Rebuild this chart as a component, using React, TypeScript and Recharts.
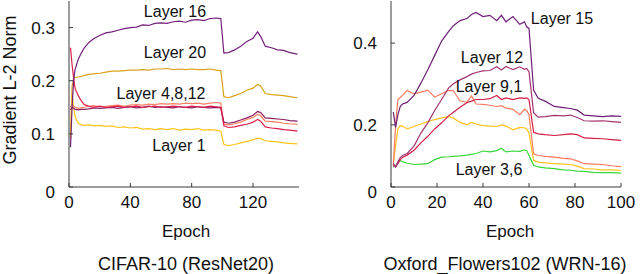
import React from 'react'
import { LineChart, Line, XAxis, YAxis } from 'recharts'

document.body.style.margin = '0'

const FONT = '"Liberation Sans", Arial, Helvetica, sans-serif'
const AXIS = '#3a3a3a'
const TEXT = '#111'

// ---- CIFAR-10 (ResNet20) ----
const cifarEpochs = [1, 2, 3, 4, 6, 8, 10, 13, 16, 20, 24, 28, 32, 36, 40, 44, 48, 52, 56, 60, 64, 68, 72, 76, 80, 84, 88, 92, 96, 99, 101, 104, 108, 112, 116, 120, 123, 125, 128, 132, 136, 140, 144, 149]
const cifarLayer16 = [0.075, 0.15, 0.2, 0.222, 0.24, 0.252, 0.262, 0.272, 0.279, 0.285, 0.29, 0.292, 0.295, 0.298, 0.3, 0.301, 0.305, 0.304, 0.308, 0.309, 0.308, 0.311, 0.312, 0.31, 0.314, 0.315, 0.313, 0.317, 0.318, 0.317, 0.252, 0.253, 0.258, 0.265, 0.274, 0.28, 0.292, 0.283, 0.265, 0.262, 0.258, 0.257, 0.253, 0.25]
const cifarLayer20 = [0.09, 0.19, 0.204, 0.206, 0.207, 0.208, 0.21, 0.212, 0.213, 0.214, 0.216, 0.218, 0.218, 0.219, 0.22, 0.22, 0.221, 0.22, 0.222, 0.222, 0.223, 0.221, 0.222, 0.221, 0.222, 0.221, 0.221, 0.222, 0.22, 0.219, 0.17, 0.168, 0.172, 0.176, 0.182, 0.186, 0.193, 0.19, 0.176, 0.174, 0.173, 0.172, 0.17, 0.168]
const cifarLayer4 = [0.145, 0.15, 0.148, 0.146, 0.145, 0.146, 0.146, 0.147, 0.149, 0.148, 0.149, 0.15, 0.148, 0.15, 0.151, 0.149, 0.15, 0.152, 0.15, 0.151, 0.15, 0.149, 0.151, 0.15, 0.149, 0.151, 0.15, 0.149, 0.15, 0.149, 0.122, 0.12, 0.122, 0.126, 0.13, 0.135, 0.142, 0.14, 0.13, 0.129, 0.128, 0.127, 0.125, 0.124]
const cifarLayer8 = [0.262, 0.23, 0.205, 0.185, 0.172, 0.162, 0.155, 0.152, 0.15, 0.152, 0.15, 0.151, 0.152, 0.15, 0.151, 0.152, 0.15, 0.151, 0.152, 0.15, 0.151, 0.152, 0.151, 0.15, 0.152, 0.151, 0.15, 0.152, 0.151, 0.15, 0.115, 0.112, 0.113, 0.116, 0.118, 0.122, 0.127, 0.124, 0.113, 0.111, 0.11, 0.108, 0.107, 0.105]
const cifarLayer12 = [0.15, 0.155, 0.152, 0.15, 0.148, 0.149, 0.15, 0.152, 0.153, 0.151, 0.152, 0.153, 0.154, 0.152, 0.154, 0.155, 0.154, 0.156, 0.155, 0.157, 0.156, 0.157, 0.156, 0.158, 0.157, 0.158, 0.156, 0.158, 0.159, 0.158, 0.118, 0.117, 0.119, 0.122, 0.127, 0.131, 0.137, 0.134, 0.124, 0.123, 0.122, 0.12, 0.119, 0.118]
const cifarLayer1 = [0.1, 0.175, 0.15, 0.132, 0.12, 0.117, 0.116, 0.117, 0.115, 0.116, 0.114, 0.115, 0.112, 0.113, 0.111, 0.112, 0.109, 0.11, 0.108, 0.11, 0.108, 0.11, 0.107, 0.109, 0.108, 0.11, 0.107, 0.108, 0.107, 0.105, 0.08, 0.078, 0.08, 0.083, 0.086, 0.089, 0.092, 0.091, 0.087, 0.086, 0.085, 0.083, 0.082, 0.081]
const cifarXTicks = [0, 40, 80, 120]
const cifarYTicks = [0, 0.1, 0.2, 0.3]

// ---- Oxford_Flowers102 (WRN-16) ----
const flowersEpochs = [1, 2, 3, 4, 5, 7, 10, 13, 16, 19, 22, 25, 27, 30, 33, 35, 37, 40, 43, 46, 48, 50, 53, 56, 58, 59, 60, 62, 64, 67, 71, 75, 78, 81, 84, 88, 92, 96, 100]
const flowersLayer15 = [0.231, 0.194, 0.225, 0.245, 0.251, 0.255, 0.272, 0.302, 0.335, 0.37, 0.405, 0.428, 0.442, 0.455, 0.46, 0.47, 0.475, 0.465, 0.468, 0.455, 0.468, 0.452, 0.465, 0.446, 0.452, 0.44, 0.436, 0.285, 0.265, 0.258, 0.245, 0.242, 0.24, 0.236, 0.224, 0.222, 0.22, 0.222, 0.221]
const flowersLayer12 = [0.105, 0.097, 0.11, 0.12, 0.125, 0.13, 0.148, 0.18, 0.205, 0.235, 0.262, 0.29, 0.3, 0.31, 0.318, 0.324, 0.328, 0.332, 0.333, 0.342, 0.334, 0.343, 0.335, 0.342, 0.336, 0.338, 0.33, 0.23, 0.219, 0.22, 0.223, 0.222, 0.224, 0.218, 0.21, 0.209, 0.21, 0.208, 0.206]
const flowersLayer9 = [0.101, 0.097, 0.105, 0.115, 0.12, 0.126, 0.138, 0.156, 0.172, 0.19, 0.205, 0.222, 0.23, 0.243, 0.254, 0.258, 0.262, 0.262, 0.264, 0.272, 0.262, 0.266, 0.262, 0.266, 0.265, 0.266, 0.262, 0.182, 0.178, 0.176, 0.174, 0.176, 0.178, 0.176, 0.168, 0.167, 0.166, 0.164, 0.162]
const flowersLayer1 = [0.1, 0.2, 0.262, 0.267, 0.272, 0.284, 0.276, 0.28, 0.285, 0.268, 0.276, 0.284, 0.284, 0.259, 0.255, 0.271, 0.251, 0.25, 0.248, 0.245, 0.247, 0.241, 0.238, 0.225, 0.238, 0.235, 0.225, 0.129, 0.125, 0.123, 0.121, 0.118, 0.117, 0.112, 0.105, 0.104, 0.103, 0.1, 0.098]
const flowersLayer3 = [0.105, 0.15, 0.19, 0.198, 0.197, 0.19, 0.196, 0.202, 0.208, 0.213, 0.217, 0.22, 0.217, 0.206, 0.2, 0.206, 0.202, 0.198, 0.197, 0.196, 0.2, 0.197, 0.188, 0.194, 0.193, 0.19, 0.18, 0.113, 0.109, 0.107, 0.105, 0.104, 0.103, 0.099, 0.093, 0.092, 0.09, 0.09, 0.089]
const flowersLayer6 = [0.097, 0.1, 0.108, 0.113, 0.11, 0.106, 0.103, 0.104, 0.105, 0.115, 0.121, 0.122, 0.123, 0.124, 0.126, 0.128, 0.13, 0.136, 0.134, 0.137, 0.143, 0.134, 0.136, 0.135, 0.139, 0.137, 0.125, 0.101, 0.097, 0.095, 0.093, 0.09, 0.089, 0.087, 0.086, 0.084, 0.083, 0.083, 0.082]
const flowersXTicks = [0, 20, 40, 60, 80, 100]
// the original's bottom edge is labelled "0" though its scale is offset
const flowersYTicks = [0.048, 0.2, 0.4]

const cifarData = cifarEpochs.map((e, i) => ({
  epoch: e,
  l16: cifarLayer16[i],
  l20: cifarLayer20[i],
  l4: cifarLayer4[i],
  l8: cifarLayer8[i],
  l12: cifarLayer12[i],
  l1: cifarLayer1[i],
}))

const flowersData = flowersEpochs.map((e, i) => ({
  epoch: e,
  l15: flowersLayer15[i],
  l12: flowersLayer12[i],
  l9: flowersLayer9[i],
  l1: flowersLayer1[i],
  l3: flowersLayer3[i],
  l6: flowersLayer6[i],
}))

const TICK_LEN = 4

function tickText(v: number) {
  if (v < 0.05) return '0'
  return String(v)
}

function BottomTick({ x, y, payload }: any) {
  return (
    <g>
      <line x1={x} x2={x} y1={y} y2={y - TICK_LEN} stroke={AXIS} />
      <text x={x} y={y + 21} textAnchor="middle" fontSize={17} fill={TEXT} fontFamily={FONT}>
        {payload.value}
      </text>
    </g>
  )
}

function TopTick({ x, y }: any) {
  return <line x1={x} x2={x} y1={y} y2={y + TICK_LEN} stroke={AXIS} />
}

function LeftTick({ x, y, payload }: any) {
  const low = payload.value < 0.05
  return (
    <g>
      <line x1={x} x2={x + TICK_LEN} y1={y} y2={y} stroke={AXIS} />
      <text x={x - 14} y={y + 6 + (low ? 5 : 0)} textAnchor="end" fontSize={17} fill={TEXT} fontFamily={FONT}>
        {tickText(payload.value)}
      </text>
    </g>
  )
}

function RightTick({ x, y }: any) {
  return <line x1={x} x2={x - TICK_LEN} y1={y} y2={y} stroke={AXIS} />
}

function Txt({ x, y, size = 16, children, rotate }: any) {
  return (
    <div
      style={{
        position: 'absolute',
        left: x,
        top: y,
        transform: `translate(-50%, -50%)${rotate ? ' rotate(-90deg)' : ''}`,
        fontSize: size,
        lineHeight: rotate ? 1 : 1.3,
        whiteSpace: 'nowrap',
        color: TEXT,
        fontFamily: FONT,
      }}
    >
      {children}
    </div>
  )
}

function Frame({ xDomain, yDomain, xTicks, yTicks, yWidth }: any) {
  return [
    <XAxis
      key="xb"
      dataKey="epoch"
      type="number"
      domain={xDomain}
      ticks={xTicks}
      interval={0}
      allowDataOverflow
      height={87}
      tickSize={0}
      tickMargin={0}
      tickLine={false}
      axisLine={{ stroke: AXIS }}
      tick={<BottomTick />}
    />,
    <XAxis
      key="xt"
      xAxisId="top"
      orientation="top"
      dataKey="epoch"
      type="number"
      domain={xDomain}
      ticks={xTicks}
      interval={0}
      allowDataOverflow
      height={0}
      tickSize={0}
      tickMargin={0}
      tickLine={false}
      axisLine={{ stroke: AXIS }}
      tick={<TopTick />}
    />,
    <YAxis
      key="yl"
      type="number"
      domain={yDomain}
      ticks={yTicks}
      interval={0}
      allowDataOverflow
      width={yWidth}
      tickSize={0}
      tickMargin={0}
      tickLine={false}
      axisLine={{ stroke: AXIS }}
      tick={<LeftTick />}
    />,
    <YAxis
      key="yr"
      yAxisId="right"
      orientation="right"
      type="number"
      domain={yDomain}
      ticks={yTicks}
      interval={0}
      allowDataOverflow
      width={0}
      tickSize={0}
      tickMargin={0}
      tickLine={false}
      axisLine={{ stroke: AXIS }}
      tick={<RightTick />}
    />,
  ]
}

function series(key: string, color: string) {
  return (
    <Line
      key={key}
      dataKey={key}
      stroke={color}
      strokeWidth={1.2}
      dot={false}
      isAnimationActive={false}
    />
  )
}

export default function App() {
  return (
    <div style={{ display: 'flex', width: 640, height: 274, background: '#fff' }}>
      <div style={{ position: 'relative', width: 320, height: 274 }}>
        <LineChart width={320} height={274} data={cifarData} margin={{ top: 1, right: 21, bottom: 0, left: 0 }}>
          {Frame({ xDomain: [0, 150], yDomain: [0, 0.35], xTicks: cifarXTicks, yTicks: cifarYTicks, yWidth: 69 })}
          {series('l20', '#d9a21b')}
          {series('l1', '#ffc41a')}
          {series('l12', '#ff7f66')}
          {series('l4', '#8c1f5e')}
          {series('l8', '#dc1e4a')}
          {series('l16', '#73207b')}
        </LineChart>
        <Txt x={175} y={12}>Layer 16</Txt>
        <Txt x={175} y={53}>Layer 20</Txt>
        <Txt x={161} y={94}>Layer 4,8,12</Txt>
        <Txt x={179} y={146}>Layer 1</Txt>
        <Txt x={10} y={90} size={18} rotate>Gradient L-2 Norm</Txt>
        <Txt x={186} y={232} size={17}>Epoch</Txt>
        <Txt x={186} y={265} size={18}>CIFAR-10 (ResNet20)</Txt>
      </div>
      <div style={{ position: 'relative', width: 320, height: 274 }}>
        <LineChart width={320} height={274} data={flowersData} margin={{ top: 1, right: 19, bottom: 0, left: 0 }}>
          {Frame({ xDomain: [0, 100], yDomain: [0.048, 0.503], xTicks: flowersXTicks, yTicks: flowersYTicks, yWidth: 71 })}
          {series('l6', '#3ad63a')}
          {series('l3', '#ffc21a')}
          {series('l1', '#ff7a5e')}
          {series('l9', '#d21f4a')}
          {series('l12', '#a33472')}
          {series('l15', '#6e1f78')}
        </LineChart>
        <Txt x={242} y={19}>Layer 15</Txt>
        <Txt x={172} y={58}>Layer 12</Txt>
        <Txt x={169} y={87}>Layer 9,1</Txt>
        <Txt x={169} y={170}>Layer 3,6</Txt>
        <Txt x={190} y={232} size={17}>Epoch</Txt>
        <Txt x={185} y={265} size={18}>Oxford_Flowers102 (WRN-16)</Txt>
      </div>
    </div>
  )
}
